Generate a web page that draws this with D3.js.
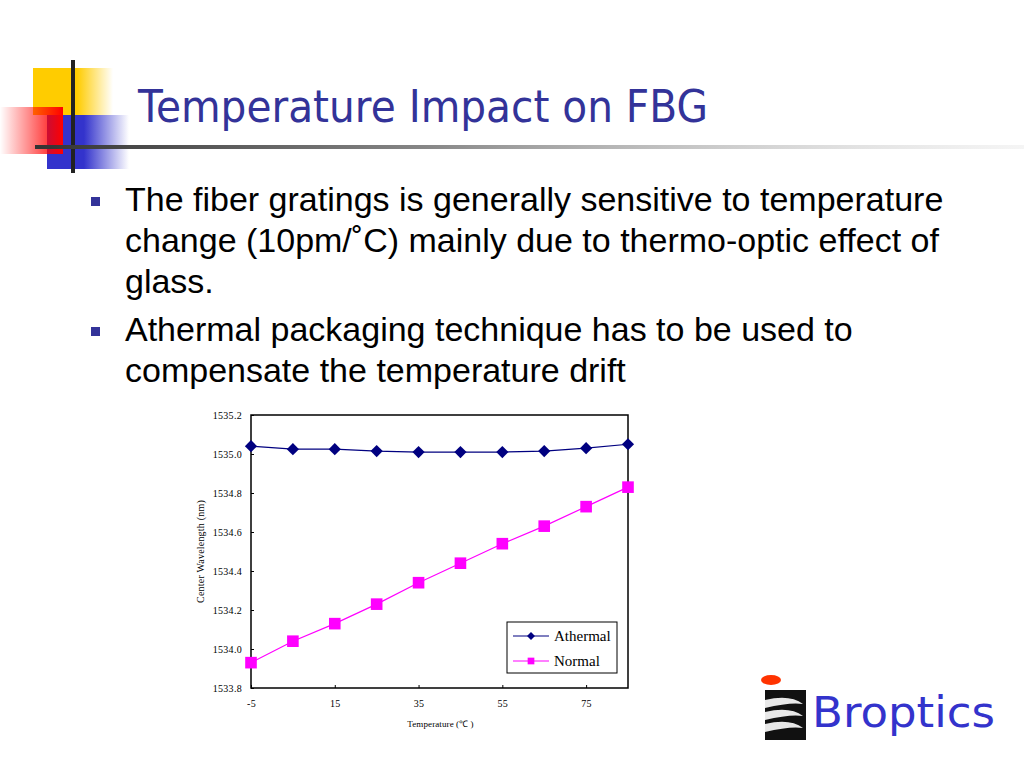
<!DOCTYPE html>
<html>
<head>
<meta charset="utf-8">
<script src="https://cdn.jsdelivr.net/npm/d3@7/dist/d3.min.js"></script>
<style>
  body { margin: 0; background: #fff; }
  svg { display: block; }
</style>
</head>
<body>
<svg id="slide" width="1024" height="768"></svg>
<script>
// chart data
var temps = [-5, 5, 15, 25, 35, 45, 55, 65, 75, 85];
var athermal = [1535.04, 1535.025, 1535.025, 1535.015, 1535.01, 1535.01, 1535.01, 1535.015, 1535.03, 1535.05];
var normal = [1533.93, 1534.04, 1534.13, 1534.23, 1534.34, 1534.44, 1534.54, 1534.63, 1534.73, 1534.83];
var xTicks = [-5, 15, 35, 55, 75];
var yTicks = [1533.8, 1534.0, 1534.2, 1534.4, 1534.6, 1534.8, 1535.0, 1535.2];
var seriesNames = ["Athermal", "Normal"];

var bullets = [
  ["The fiber gratings is generally sensitive to temperature",
   "change (10pm/\u02daC) mainly due to thermo-optic effect of",
   "glass."],
  ["Athermal packaging technique has to be used to",
   "compensate the temperature drift"]
];

var svg = d3.select("#slide");
var defs = svg.append("defs");

function hGrad(id, stops) {
  var g = defs.append("linearGradient").attr("id", id)
    .attr("x1", "0%").attr("x2", "100%").attr("y1", "0%").attr("y2", "0%");
  stops.forEach(function(s) {
    g.append("stop").attr("offset", s[0]).attr("stop-color", s[1]).attr("stop-opacity", s[2]);
  });
}
hGrad("gYellow", [["0%", "#ffcc00", 1], ["55%", "#ffcc00", 1], ["100%", "#ffcc00", 0]]);
hGrad("gBlue", [["0%", "#3333cc", 1], ["45%", "#3333cc", 1], ["100%", "#3333cc", 0]]);
hGrad("gRed", [["0%", "#ff0000", 0], ["100%", "#ff0000", 1]]);
hGrad("gLine", [["0%", "#333333", 1], ["40%", "#888888", 1], ["100%", "#dddddd", 0.3]]);

// corner decoration
var deco = svg.append("g");
deco.append("rect").attr("x", 33).attr("y", 68).attr("width", 80).attr("height", 47).attr("fill", "url(#gYellow)");
deco.append("rect").attr("x", 47).attr("y", 115).attr("width", 82).attr("height", 54).attr("fill", "url(#gBlue)");
deco.append("rect").attr("x", 0).attr("y", 107).attr("width", 63).attr("height", 47).attr("fill", "url(#gRed)");
deco.append("rect").attr("x", 71).attr("y", 60).attr("width", 4).attr("height", 113).attr("fill", "#222");
deco.append("rect").attr("x", 35).attr("y", 145).attr("width", 990).attr("height", 4).attr("fill", "url(#gLine)");

// title
svg.append("text")
  .attr("x", 138).attr("y", 122)
  .attr("font-family", "DejaVu Sans, sans-serif")
  .attr("font-size", 44)
  .attr("fill", "#333399")
  .attr("textLength", 570).attr("lengthAdjust", "spacingAndGlyphs")
  .text("Temperature Impact on FBG");

// bullet text
var lineY = 211;
bullets.forEach(function(lines, bi) {
  svg.append("rect").attr("x", 91).attr("y", lineY - 14).attr("width", 9).attr("height", 9).attr("fill", "#333399");
  lines.forEach(function(t) {
    svg.append("text")
      .attr("x", 125).attr("y", lineY)
      .attr("font-family", "Liberation Sans, Arial, sans-serif")
      .attr("font-size", 34)
      .attr("fill", "#000")
      .text(t);
    lineY += 41;
  });
  lineY += 7;
});

// chart
var pLeft = 251, pRight = 628, pTop = 415, pBottom = 688;
var x = d3.scaleLinear().domain([-5, 85]).range([pLeft, pRight]);
var y = d3.scaleLinear().domain([1533.8, 1535.2]).range([pBottom, pTop]);

var chart = svg.append("g").attr("font-family", "Liberation Serif, Times New Roman, serif");

chart.append("g")
  .attr("transform", "translate(0," + pBottom + ")")
  .call(d3.axisBottom(x).tickValues(xTicks).tickSize(-3).tickPadding(12).tickFormat(function(d) { return String(d); }))
  .call(function(g) {
    g.select(".domain").remove();
    g.selectAll("text").attr("font-size", 10).attr("letter-spacing", 0.3).attr("fill", "#000").attr("font-family", "Liberation Serif, serif");
    g.selectAll("line").attr("stroke", "#000");
  });

chart.append("g")
  .attr("transform", "translate(" + pLeft + ",0)")
  .call(d3.axisLeft(y).tickValues(yTicks).tickSize(-3).tickPadding(9).tickFormat(d3.format(".1f")))
  .call(function(g) {
    g.select(".domain").remove();
    g.selectAll("text").attr("font-size", 10).attr("letter-spacing", 0.3).attr("fill", "#000").attr("font-family", "Liberation Serif, serif");
    g.selectAll("line").attr("stroke", "#000");
  });

chart.append("rect")
  .attr("x", pLeft).attr("y", pTop).attr("width", pRight - pLeft).attr("height", pBottom - pTop)
  .attr("fill", "none").attr("stroke", "#000").attr("stroke-width", 1.5);

chart.append("text")
  .attr("transform", "translate(204," + ((pTop + pBottom) / 2) + ") rotate(-90)")
  .attr("text-anchor", "middle").attr("font-size", 10).attr("letter-spacing", 0.2)
  .text("Center Wavelength (nm)");

chart.append("text")
  .attr("x", (pLeft + pRight) / 2 + 1).attr("y", 727)
  .attr("text-anchor", "middle").attr("font-size", 9).attr("letter-spacing", 0.1)
  .text("Temperature (\u2103 )");

var line = d3.line().x(function(d) { return x(d[0]); }).y(function(d) { return y(d[1]); });
var athPts = temps.map(function(t, i) { return [t, athermal[i]]; });
var norPts = temps.map(function(t, i) { return [t, normal[i]]; });

chart.append("path").attr("d", line(athPts)).attr("fill", "none").attr("stroke", "#000080").attr("stroke-width", 1.2);
chart.append("path").attr("d", line(norPts)).attr("fill", "none").attr("stroke", "#ff00ff").attr("stroke-width", 1.2);

var diamond = d3.symbol().type(d3.symbolDiamond2).size(95);
var square = d3.symbol().type(d3.symbolSquare).size(135);

chart.selectAll(".ath").data(athPts).enter().append("path")
  .attr("class", "ath")
  .attr("transform", function(d) { return "translate(" + x(d[0]) + "," + y(d[1]) + ")"; })
  .attr("d", diamond).attr("fill", "#000080");

chart.selectAll(".nor").data(norPts).enter().append("path")
  .attr("class", "nor")
  .attr("transform", function(d) { return "translate(" + x(d[0]) + "," + y(d[1]) + ")"; })
  .attr("d", square).attr("fill", "#ff00ff");

// legend
var lg = chart.append("g");
lg.append("rect").attr("x", 507).attr("y", 622).attr("width", 110).attr("height", 51)
  .attr("fill", "#fff").attr("stroke", "#000").attr("stroke-width", 1);
var legendColors = ["#000080", "#ff00ff"];
var legendSyms = [d3.symbol().type(d3.symbolDiamond2).size(40), d3.symbol().type(d3.symbolSquare).size(45)];
seriesNames.forEach(function(name, i) {
  var ly = 636 + i * 25;
  lg.append("line").attr("x1", 513).attr("x2", 549).attr("y1", ly).attr("y2", ly)
    .attr("stroke", legendColors[i]).attr("stroke-width", 1.2);
  lg.append("path").attr("transform", "translate(531," + ly + ")").attr("d", legendSyms[i]).attr("fill", legendColors[i]);
  lg.append("text").attr("x", 554).attr("y", ly + 5).attr("font-size", 15).text(name);
});

// logo
var logo = svg.append("g");
logo.append("rect").attr("x", 765).attr("y", 690).attr("width", 41).attr("height", 50).attr("fill", "#111");
[[700, 14], [712, 14], [724, 14]].forEach(function(s) {
  logo.append("path")
    .attr("d", "M765," + s[0] + " Q790," + (s[0] - 6) + " 803," + (s[0] + 4) + " Q790," + (s[0] + 2) + " 765," + (s[0] + 8) + " Z")
    .attr("fill", "#e8e8e8");
});
logo.append("ellipse").attr("cx", 771).attr("cy", 680).attr("rx", 10).attr("ry", 5).attr("fill", "#ff3300");
logo.append("text")
  .attr("x", 812).attr("y", 727)
  .attr("font-family", "DejaVu Sans, sans-serif")
  .attr("font-size", 42)
  .attr("fill", "#3333cc")
  .attr("textLength", 183).attr("lengthAdjust", "spacingAndGlyphs")
  .text("Broptics");
</script>
</body>
</html>
